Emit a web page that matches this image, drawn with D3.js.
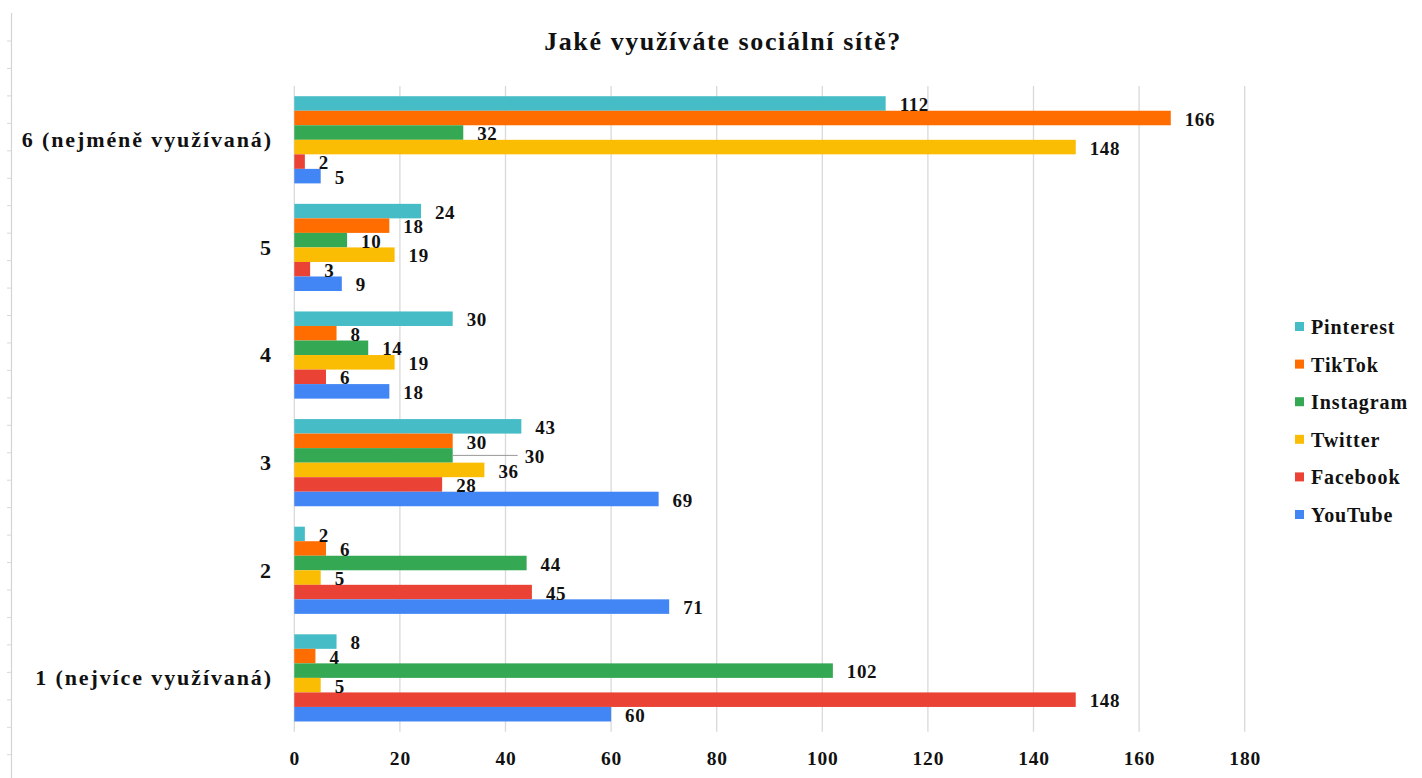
<!DOCTYPE html>
<html><head><meta charset="utf-8">
<script src="https://cdn.jsdelivr.net/npm/d3@7"></script>
<style>
html,body{margin:0;padding:0;background:#fff;}
svg{display:block;font-family:"Liberation Serif","Times New Roman",serif;}
</style></head>
<body>
<svg id="chart" width="1422" height="778"></svg>
<script>
const title = "Jaké využíváte sociální sítě?";
const categories = ["1 (nejvíce využívaná)", "2", "3", "4", "5", "6 (nejméně využívaná)"];
const seriesNames = ["Pinterest", "TikTok", "Instagram", "Twitter", "Facebook", "YouTube"];
const seriesColors = ["#46BDC6", "#FF6D01", "#34A853", "#FBBC04", "#EA4335", "#4285F4"];
const pinterest = [8, 2, 43, 30, 24, 112];
const tiktok = [4, 6, 30, 8, 18, 166];
const instagram = [102, 44, 30, 14, 10, 32];
const twitter = [5, 5, 36, 19, 19, 148];
const facebook = [148, 45, 28, 6, 3, 2];
const youtube = [60, 71, 69, 18, 9, 5];
const xTicks = [0, 20, 40, 60, 80, 100, 120, 140, 160, 180];

const seriesValues = [pinterest, tiktok, instagram, twitter, facebook, youtube];

// flat list of bar records built from the arrays above
const records = [];
categories.forEach((c, ci) => {
  seriesNames.forEach((s, si) => {
    const v = seriesValues[si][ci];
    const clash = si > 0 && v === seriesValues[si - 1][ci];
    records.push({ category: c, series: s, color: seriesColors[si], value: v, clash });
  });
});

const svg = d3.select("#chart");
const plotLeft = 294.3, plotRight = 1244.7, plotTop = 86, plotBottom = 731.7;

// decorative left border with ruler ticks
svg.append("line").attr("x1", 11.5).attr("x2", 11.5).attr("y1", 13).attr("y2", 778)
  .attr("stroke", "#d4d4d4").attr("stroke-width", 1.2);
svg.selectAll("line.rt").data(d3.range(41, 778, 27.45)).join("line").attr("class", "rt")
  .attr("x1", 7).attr("x2", 11).attr("y1", d => d).attr("y2", d => d)
  .attr("stroke", "#d8d8d8").attr("stroke-width", 1);

const x = d3.scaleLinear().domain([0, 180]).range([plotLeft, plotRight]);
const y = d3.scaleBand().domain(categories.slice().reverse()).range([plotTop, plotBottom]).paddingInner(0.19).paddingOuter(0.095);
const ySub = d3.scaleBand().domain(seriesNames).range([0, y.bandwidth()]);
const yMid = d => y(d.category) + ySub(d.series) + ySub.bandwidth() / 2;

// title
svg.append("text").attr("x", 723).attr("y", 50).attr("text-anchor", "middle")
  .attr("font-weight", "bold").attr("font-size", 26).attr("letter-spacing", 1.6)
  .attr("fill", "#111").text(title);

// gridlines
svg.append("g").selectAll("line").data(xTicks).join("line")
  .attr("x1", d => x(d)).attr("x2", d => x(d)).attr("y1", plotTop).attr("y2", plotBottom)
  .attr("stroke", "#d9d9d9").attr("stroke-width", 1.3);

// x axis labels
const xAxis = d3.axisBottom(x).tickValues(xTicks).tickSize(0).tickPadding(0);
const gx = svg.append("g").attr("transform", `translate(0,${plotBottom + 33})`).call(xAxis);
gx.select(".domain").remove();
gx.selectAll("text").attr("font-family", "Liberation Serif, serif").attr("font-size", 19.5)
  .attr("font-weight", "bold").attr("letter-spacing", 0.8).attr("fill", "#111").attr("dy", 0);

// y axis labels
const yAxis = d3.axisLeft(y).tickSize(0).tickPadding(0);
const gy = svg.append("g").attr("transform", `translate(273,0)`).call(yAxis);
gy.select(".domain").remove();
gy.selectAll("text").attr("font-family", "Liberation Serif, serif").attr("font-size", 22)
  .attr("font-weight", "bold").attr("letter-spacing", 1.9).attr("fill", "#111").attr("dy", "0.33em");

// bars
svg.append("g").selectAll("rect").data(records).join("rect")
  .attr("x", x(0))
  .attr("y", d => y(d.category) + ySub(d.series))
  .attr("width", d => x(d.value) - x(0))
  .attr("height", ySub.bandwidth())
  .attr("fill", d => d.color);

// leader lines for labels pushed aside to avoid a clash
const labelGap = 14, pushGap = 72;
svg.append("g").selectAll("line").data(records.filter(d => d.clash)).join("line")
  .attr("x1", d => x(d.value)).attr("x2", d => x(d.value) + pushGap - 7)
  .attr("y1", yMid).attr("y2", yMid)
  .attr("stroke", "#999").attr("stroke-width", 1);

// data labels
svg.append("g").selectAll("text").data(records).join("text")
  .attr("x", d => x(d.value) + (d.clash ? pushGap : labelGap))
  .attr("y", d => yMid(d) + 1)
  .attr("dy", "0.35em")
  .attr("font-size", 19).attr("font-weight", "bold").attr("letter-spacing", 0.6).attr("fill", "#111")
  .text(d => d.value);

// legend
const legend = svg.append("g").selectAll("g").data(seriesNames).join("g")
  .attr("transform", (d, i) => `translate(1295,${327 + i * 37.6})`);
legend.append("rect").attr("x", 0).attr("y", -5).attr("width", 9).attr("height", 9)
  .attr("fill", (d, i) => seriesColors[i]);
legend.append("text").attr("x", 16).attr("y", 0).attr("dy", "0.35em")
  .attr("font-size", 20).attr("font-weight", "bold").attr("letter-spacing", 0.9).attr("fill", "#111").text(d => d);
</script>
</body></html>
